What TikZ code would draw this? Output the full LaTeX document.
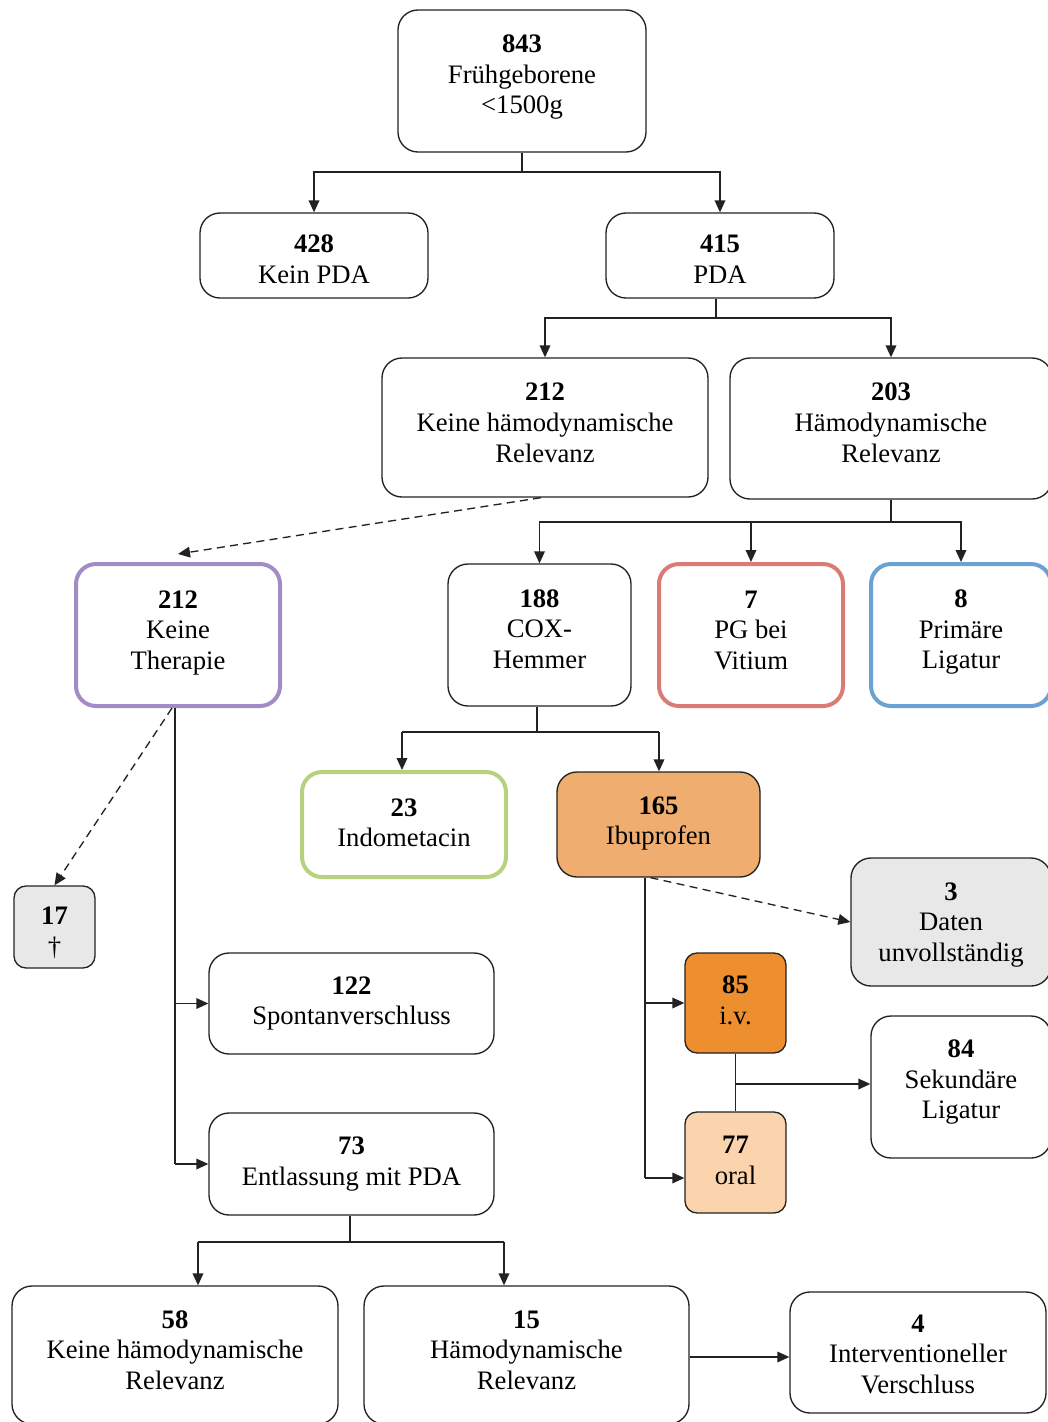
\documentclass[tikz,border=0pt]{standalone}
\usepackage{fontspec}
\setmainfont{Liberation Serif}
\usetikzlibrary{arrows.meta,calc}
\definecolor{cpurple}{HTML}{A38CC6}
\definecolor{cred}{HTML}{DA7B76}
\definecolor{cblue}{HTML}{6CA2D3}
\definecolor{cgreen}{HTML}{B7D27E}
\definecolor{cibu}{HTML}{EFAE70}
\definecolor{civ}{HTML}{EE8F2F}
\definecolor{coral}{HTML}{FBD3AD}
\definecolor{cgray}{HTML}{E8E8E8}
\definecolor{cline}{HTML}{222222}
\newcommand{\snkstrut}[1]{\rule{0pt}{#1}}
\tikzset{
  box/.style={draw=cline, line width=1pt, rounded corners=15pt, align=center, inner sep=0pt, font=\fontsize{20}{23}\selectfont},
  sbox/.style={box, rounded corners=9pt},
  thickbox/.style={box, line width=3pt},
  lift/.style={execute at end node={\rule[-#1]{0pt}{0pt}}},
  arr/.style={draw=cline, line width=1pt, -{Triangle[length=9pt,width=8pt]}},
  ln/.style={draw=cline, line width=1pt},
  dsh/.style={arr, dashed, dash pattern=on 6pt off 4pt}
}
\begin{document}
\begin{tikzpicture}[x=0.75pt,y=-0.75pt]
\useasboundingbox (0,0) rectangle (1048,1422);
\clip (0,0) rectangle (1048,1422);
\fill[white] (0,0) rectangle (1048,1422);
% nodes
\node[box, lift=10pt, minimum width=186pt, minimum height=106.5pt] (n843) at (522,81) {\textbf{843}\\Frühgeborene\\<1500g};
\node[box, minimum width=171pt, minimum height=63.75pt] (n428) at (314,255.5) {\snkstrut{19pt}\textbf{428}\\Kein PDA};
\node[box, minimum width=171pt, minimum height=63.75pt] (n415) at (720,255.5) {\snkstrut{19pt}\textbf{415}\\PDA};
\node[box, lift=7.5pt, minimum width=244.5pt, minimum height=104.25pt] (n212a) at (545,427.5) {\textbf{212}\\Keine hämodynamische\\Relevanz};
\node[box, lift=9pt, minimum width=241.5pt, minimum height=105.75pt] (n203) at (891,428.5) {\textbf{203}\\Hämodynamische\\Relevanz};
\node[thickbox, lift=7.3pt, draw=cpurple, minimum width=153pt, minimum height=106.5pt] (n212b) at (178,635) {\textbf{212}\\Keine\\Therapie};
\node[box, lift=9pt, minimum width=137.25pt, minimum height=106.5pt] (n188) at (539.5,635) {\textbf{188}\\COX-\\Hemmer};
\node[thickbox, lift=7.5pt, draw=cred, minimum width=138pt, minimum height=106.5pt] (n7) at (751,635) {\textbf{7}\\PG bei\\Vitium};
\node[thickbox, lift=8.8pt, draw=cblue, minimum width=135pt, minimum height=106.5pt] (n8) at (961,635) {\textbf{8}\\Primäre\\Ligatur};
\node[thickbox, lift=3pt, draw=cgreen, minimum width=153pt, minimum height=78.75pt] (n23) at (404,824.5) {\textbf{23}\\Indometacin};
\node[box, lift=6pt, fill=cibu, minimum width=152.25pt, minimum height=78.75pt] (n165) at (658.5,824.5) {\textbf{165}\\Ibuprofen};
\node[sbox, fill=cgray, minimum width=60.75pt, minimum height=61.5pt] (n17) at (54.5,927) {\snkstrut{22pt}\textbf{17}\\†};
\node[box, fill=cgray, minimum width=150pt, minimum height=96pt] (n3) at (951,922) {\snkstrut{17.5pt}\textbf{3}\\Daten\\unvollständig};
\node[box, minimum width=213.75pt, minimum height=75.75pt] (n122) at (351.5,1003.5) {\textbf{122}\\Spontanverschluss};
\node[sbox, lift=4.5pt, fill=civ, minimum width=75.75pt, minimum height=75pt] (n85) at (735.5,1003) {\textbf{85}\\i.v.};
\node[box, lift=11.8pt, minimum width=135pt, minimum height=106.5pt] (n84) at (961,1087) {\textbf{84}\\Sekundäre\\Ligatur};
\node[sbox, lift=3pt, fill=coral, minimum width=75.75pt, minimum height=75.75pt] (n77) at (735.5,1162.5) {\textbf{77}\\oral};
\node[box, minimum width=213.75pt, minimum height=76.5pt] (n73) at (351.5,1164) {\textbf{73}\\Entlassung mit PDA};
\node[box, lift=7.5pt, minimum width=244.5pt, minimum height=103.5pt] (n58) at (175,1355) {\textbf{58}\\Keine hämodynamische\\Relevanz};
\node[box, lift=7.5pt, minimum width=243.75pt, minimum height=103.5pt] (n15) at (526.5,1355) {\textbf{15}\\Hämodynamische\\Relevanz};
\node[box, minimum width=192pt, minimum height=90.75pt] (n4) at (918,1352.5) {\snkstrut{16pt}\textbf{4}\\Interventioneller\\Verschluss};
% connectors
\coordinate (j1) at (522,172);
\draw[ln] (n843.south) -- (j1);
\draw[arr] (j1) -| (n428.north);
\draw[arr] (j1) -| (n415.north);
\coordinate (j2) at (716,318);
\draw[ln] (j2 |- n415.south) -- (j2);
\draw[arr] (j2) -| (n212a.north);
\draw[arr] (j2) -| (n203.north);
\coordinate (j3) at (891,522);
\draw[ln] (n203.south) -- (j3);
\draw[arr] (j3) -| (n188.north);
\draw[arr] (j3) -| (n7.north);
\draw[arr] (j3) -| (n8.north);
\draw[dsh] ([xshift=-3pt]n212a.south) -- ([yshift=6pt]n212b.north);
\draw[dsh] ([xshift=-4.5pt]n212b.south) -- (n17.north);
\coordinate (tr1) at (175,1000);
\draw[ln] (tr1 |- n212b.south) -- (tr1 |- n73.west);
\draw[arr] (tr1 |- n122.west) -- (n122.west);
\draw[arr] (tr1 |- n73.west) -- (n73.west);
\coordinate (j4) at (537,732);
\draw[ln] (j4 |- n188.south) -- (j4);
\coordinate (a23) at (402,732);
\coordinate (a165) at (659,732);
\draw[ln] (a23) -- (a165);
\draw[arr] (a23) -- (a23 |- n23.north);
\draw[arr] (a165) -- (a165 |- n165.north);
\coordinate (tr2) at (645,1178);
\draw[ln] (tr2 |- n165.south) -- (tr2);
\draw[arr] (tr2 |- n85.west) -- (n85.west);
\draw[arr] (tr2) -- (tr2 -| n77.west);
\draw[dsh] ([xshift=-6pt]n165.south) -- (n3.west);
\coordinate (j5) at (736,1084);
\draw[ln] (n85.south) -- (n77.north);
\draw[arr] (j5) -- (j5 -| n84.west);
\coordinate (j6) at (350,1242);
\draw[ln] (j6 |- n73.south) -- (j6);
\coordinate (a58) at (198,1242);
\coordinate (a15) at (504,1242);
\draw[ln] (a58) -- (a15);
\draw[arr] (a58) -- (a58 |- n58.north);
\draw[arr] (a15) -- (a15 |- n15.north);
\draw[arr] (n15.east |- 0,1357) -- (n4.west |- 0,1357);
\end{tikzpicture}
\end{document}
